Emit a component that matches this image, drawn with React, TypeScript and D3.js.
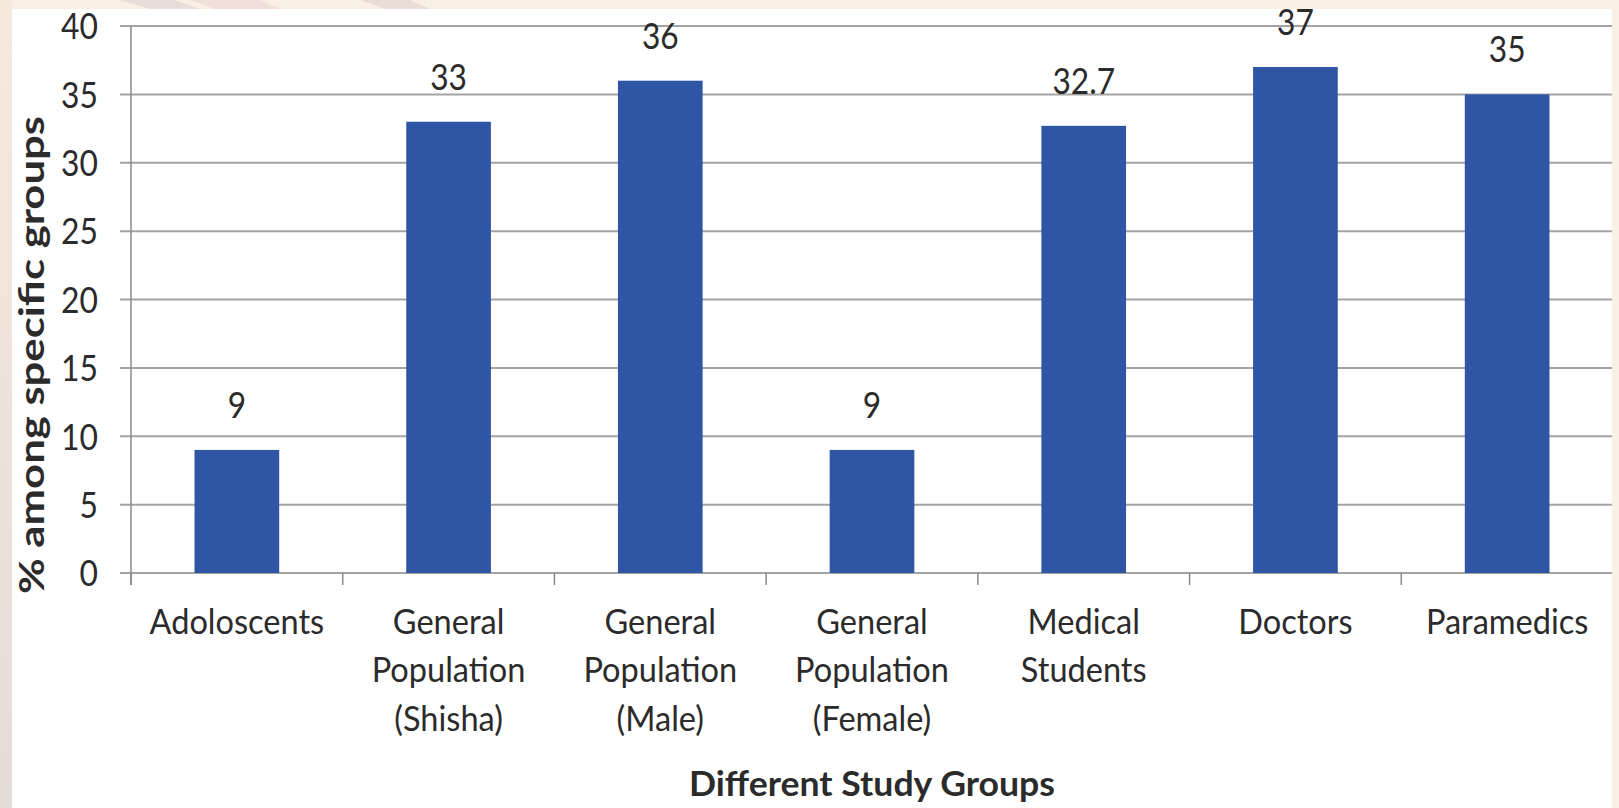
import React, { useEffect } from "react";
import * as d3 from "d3";

// Study groups, one label line per array entry
const categories = [
  "Adoloscents",
  "General Population (Shisha)",
  "General Population (Male)",
  "General Population (Female)",
  "Medical Students",
  "Doctors",
  "Paramedics",
];
const categoryLines = [
  ["Adoloscents"],
  ["General", "Population", "(Shisha)"],
  ["General", "Population", "(Male)"],
  ["General", "Population", "(Female)"],
  ["Medical", "Students"],
  ["Doctors"],
  ["Paramedics"],
];
const values = [9, 33, 36, 9, 32.7, 37, 35];
const yTicks = [0, 5, 10, 15, 20, 25, 30, 35, 40];

const W = 1619;
const H = 808;
const FONT = "Lato, 'Open Sans', sans-serif";
const TEXT = "#2b2b2b";
const BAR = "#2f56a5";
const GRID = "#a3a3a3";

// Text drawn narrower than the font's natural width
function Narrow({
  x,
  y,
  sx,
  size,
  anchor = "middle",
  weight = "normal",
  children,
}: {
  x: number;
  y: number;
  sx: number;
  size: number;
  anchor?: string;
  weight?: string;
  children: React.ReactNode;
}) {
  return (
    <g transform={`translate(${x},${y}) scale(${sx},1)`}>
      <text
        dy="0.36em"
        textAnchor={anchor}
        fontFamily={FONT}
        fontSize={size}
        fontWeight={weight}
        fill={TEXT}
      >
        {children}
      </text>
    </g>
  );
}

export default function App() {
  useEffect(() => {
    document.body.style.margin = "0";
  }, []);

  const x = d3
    .scaleBand<string>()
    .domain(categories)
    .range([131, 1613])
    .paddingInner(0.6)
    .paddingOuter(0.3);
  const y = d3.scaleLinear().domain([0, 40]).range([573, 26]);
  const step = x.step();
  const x0 = 131;
  const cx = (c: string) => (x(c) ?? 0) + x.bandwidth() / 2;

  return (
    <svg width={W} height={H} style={{ display: "block" }}>
      <defs>
        <clipPath id="panel">
          <rect x={12} y={9} width={1600} height={H - 9} />
        </clipPath>
        <linearGradient id="edge" x1="0" y1="0" x2="0" y2="1">
          <stop offset="0" stopColor="#f6eadf" />
          <stop offset="1" stopColor="#e6dcd6" />
        </linearGradient>
      </defs>
      {/* backdrop */}
      <rect x={0} y={0} width={W} height={H} fill="#faefe5" />
      <rect x={0} y={0} width={12} height={H} fill="url(#edge)" />
      <polygon points="120,0 175,0 200,9 150,9" fill="#e8ddd8" />
      <polygon points="190,0 260,0 280,9 215,9" fill="#efe1d9" />
      <polygon points="360,0 410,0 430,9 385,9" fill="#eadcd6" />
      <rect x={12} y={9} width={1600} height={H - 9} fill="#ffffff" />

      <g clipPath="url(#panel)">
        {/* gridlines */}
        {yTicks.map((t) => (
          <line
            key={t}
            x1={120}
            x2={1613}
            y1={y(t)}
            y2={y(t)}
            stroke={GRID}
            strokeWidth={2}
          />
        ))}
        {/* y axis */}
        <line x1={x0} x2={x0} y1={y(40)} y2={585} stroke="#8a8a8a" strokeWidth={1.5} />
        {/* category ticks */}
        {d3.range(categories.length + 1).map((i) => (
          <line
            key={i}
            x1={x0 + i * step}
            x2={x0 + i * step}
            y1={y(0)}
            y2={585}
            stroke="#8a8a8a"
            strokeWidth={1.5}
          />
        ))}
        {/* bars */}
        {categories.map((c, i) => (
          <rect
            key={c}
            x={x(c)}
            y={y(values[i])}
            width={x.bandwidth()}
            height={y(0) - y(values[i])}
            fill={BAR}
          />
        ))}
        {/* value labels */}
        {categories.map((c, i) => (
          <Narrow key={c} x={cx(c)} y={y(values[i]) - 45} sx={0.88} size={36}>
            {values[i]}
          </Narrow>
        ))}
        {/* y tick labels */}
        {yTicks.map((t) => (
          <Narrow key={t} x={98} y={y(t)} sx={0.86} size={37} anchor="end">
            {t}
          </Narrow>
        ))}
        {/* category labels */}
        {categories.map((c, i) =>
          categoryLines[i].map((line, j) => (
            <Narrow key={c + j} x={cx(c)} y={621 + j * 48.5} sx={0.93} size={35}>
              {line}
            </Narrow>
          ))
        )}
        {/* axis titles */}
        <text
          transform="translate(31,355) rotate(-90)"
          dy="0.36em"
          textAnchor="middle"
          fontFamily={FONT}
          fontWeight="bold"
          fontSize={35}
          textLength={478}
          lengthAdjust="spacingAndGlyphs"
          fill={TEXT}
        >
          % among specific groups
        </text>
        <text
          x={872}
          y={784}
          dy="0.36em"
          textAnchor="middle"
          fontFamily={FONT}
          fontWeight="bold"
          fontSize={34}
          textLength={366}
          lengthAdjust="spacingAndGlyphs"
          fill={TEXT}
        >
          Different Study Groups
        </text>
      </g>
    </svg>
  );
}
